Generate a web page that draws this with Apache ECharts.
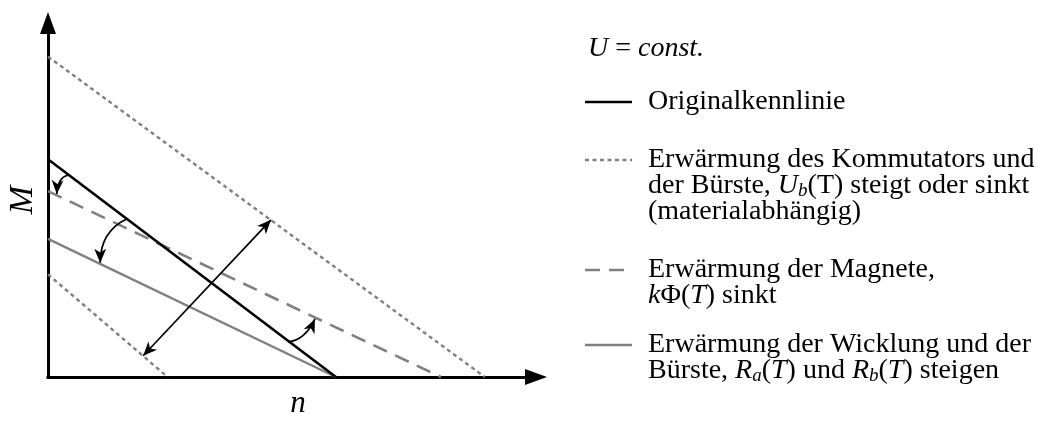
<!DOCTYPE html>
<html>
<head>
<meta charset="utf-8">
<script src="https://cdn.jsdelivr.net/npm/echarts@6/dist/echarts.min.js"></script>
<style>
  html, body { margin: 0; padding: 0; background: #fff; }
  #chart { width: 1050px; height: 424px; }
</style>
</head>
<body>
<div id="chart"></div>
<script>
// Torque/speed characteristic lines M(n): [n, M] end points on the axes
const originalLine   = [[0, 6.15], [5.9, 0]];
const commutatorHigh = [[0, 9.05], [8.95, 0]];
const commutatorLow  = [[0, 2.9],  [2.45, 0]];
const magnetLine     = [[0, 5.25], [8.05, 0]];
const windingLine    = [[0, 3.9],  [5.9, 0]];

// Annotation arrows in data units: [x1, y1, ctrlX, ctrlY, x2, y2, bothEnds]
const arrowMarks = [
  [0.41, 5.70, 0.20, 5.64, 0.18, 5.17, 0],
  [1.62, 4.47, 1.07, 4.11, 1.07, 3.23, 0],
  [4.92, 0.99, 5.27, 1.04, 5.47, 1.64, 0],
  [1.95, 0.60, 3.26, 2.52, 4.57, 4.44, 1]
];

const axisNames = { x: 'n', y: 'M' };

// Legend entries: sample style and text lines (rich text)
const legendHeader = '{i|U} = {i|const.}';
const legendEntries = [
  { kind: 'original',   lines: ['Originalkennlinie'] },
  { kind: 'commutator', lines: ['Erwärmung des Kommutators und',
                                'der Bürste, {i|U}{sub|b}(T) steigt oder sinkt',
                                '(materialabhängig)'] },
  { kind: 'magnet',     lines: ['Erwärmung der Magnete,',
                                '{i|k}Φ({i|T}) sinkt'] },
  { kind: 'winding',    lines: ['Erwärmung der Wicklung und der',
                                'Bürste, {i|R}{sub|a}({i|T}) und {i|R}{sub|b}({i|T}) steigen'] }
];

const GRAY = '#808080';
const SERIF = '"Liberation Serif", "DejaVu Serif", serif';
const FS = 28;
const styles = {
  original:   { color: '#000', width: 2.6, type: 'solid' },
  commutator: { color: GRAY,   width: 2.4, type: [4, 3.5] },
  magnet:     { color: GRAY,   width: 2.6, type: [15, 9] },
  winding:    { color: GRAY,   width: 2.4, type: 'solid' }
};

function lineSeries(name, data, kind, z) {
  const s = styles[kind];
  return {
    name, type: 'line', data, z,
    showSymbol: false, symbol: 'none', silent: true, clip: false,
    lineStyle: { color: s.color, width: s.width, type: s.type, cap: 'butt' }
  };
}

function arrowHead(tip, from) {
  const ang = Math.atan2(tip[1] - from[1], tip[0] - from[0]);
  const c = Math.cos(ang), s = Math.sin(ang);
  const L = 14, W = 6;
  const p = (dx, dy) => [tip[0] + dx * c - dy * s, tip[1] + dx * s + dy * c];
  return {
    type: 'polygon',
    shape: { points: [p(0, 0), p(-L, W), p(-0.72 * L, 0), p(-L, -W)] },
    style: { fill: '#000', stroke: null }
  };
}

function renderArrow(params, api) {
  const a = api.coord([api.value(0), api.value(1)]);
  const c = api.coord([api.value(2), api.value(3)]);
  const b = api.coord([api.value(4), api.value(5)]);
  const children = [{
    type: 'bezierCurve',
    shape: { x1: a[0], y1: a[1], cpx1: c[0], cpy1: c[1], x2: b[0], y2: b[1] },
    style: { stroke: '#000', lineWidth: 1.7, fill: null }
  }, arrowHead(b, c)];
  if (api.value(6) === 1) children.push(arrowHead(a, c));
  return { type: 'group', children };
}

// Legend layout (pixels)
const LEG_X0 = 585, LEG_X1 = 632, TEXT_X = 648;
const headerY = 49;
const blockTops = [102, 160, 270, 345];
const lineStep = 26;

const rich = {
  i:   { fontFamily: SERIF, fontSize: FS, fontStyle: 'italic', color: '#000', lineHeight: 28 },
  sub: { fontFamily: SERIF, fontSize: 19, fontStyle: 'italic', color: '#000', lineHeight: 14, verticalAlign: 'bottom' }
};
function textEl(x, y, text) {
  return {
    type: 'text', x, y, silent: true,
    style: {
      text, rich, fill: '#000',
      fontFamily: SERIF, fontSize: FS, lineHeight: 28,
      align: 'left', verticalAlign: 'middle'
    }
  };
}

const graphics = [textEl(588, headerY, legendHeader)];
legendEntries.forEach((entry, k) => {
  const s = styles[entry.kind];
  const y0 = blockTops[k];
  graphics.push({
    type: 'line', silent: true,
    shape: { x1: LEG_X0, y1: y0, x2: LEG_X1, y2: y0 },
    style: { stroke: s.color, lineWidth: s.width, lineDash: s.type === 'solid' ? null : s.type }
  });
  entry.lines.forEach((ln, j) => graphics.push(textEl(TEXT_X, y0 + j * lineStep, ln)));
});

const axisCommon = {
  type: 'value', min: 0, max: 10,
  axisLine: {
    show: true, onZero: false,
    symbol: ['none', 'triangle'], symbolSize: [16, 22],
    lineStyle: { color: '#000', width: 3, cap: 'square' }
  },
  axisTick: { show: false }, axisLabel: { show: false }, splitLine: { show: false },
  nameLocation: 'middle'
};

const chart = echarts.init(document.getElementById('chart'), null, { renderer: 'canvas' });
chart.setOption({
  backgroundColor: '#fff',
  animation: false,
  grid: { left: 48, right: 514, top: 23, bottom: 36, containLabel: false },
  xAxis: Object.assign({}, axisCommon, {
    name: axisNames.x, nameGap: 11,
    nameTextStyle: { fontFamily: SERIF, fontStyle: 'italic', fontSize: 31, color: '#000', padding: [0, 0, 0, 12] }
  }),
  yAxis: Object.assign({}, axisCommon, {
    name: axisNames.y, nameGap: 8, nameRotate: 90,
    nameTextStyle: { fontFamily: SERIF, fontStyle: 'italic', fontSize: 34, color: '#000' }
  }),
  series: [
    lineSeries('Kommutator +', commutatorHigh, 'commutator', 2),
    lineSeries('Kommutator -', commutatorLow, 'commutator', 2),
    lineSeries('Magnete', magnetLine, 'magnet', 2),
    lineSeries('Wicklung', windingLine, 'winding', 2),
    lineSeries('Originalkennlinie', originalLine, 'original', 3),
    {
      type: 'custom', name: 'Pfeile', data: arrowMarks, renderItem: renderArrow,
      encode: { x: [0, 2, 4], y: [1, 3, 5] }, clip: false, silent: true, z: 4
    }
  ],
  graphic: graphics
});
</script>
</body>
</html>
